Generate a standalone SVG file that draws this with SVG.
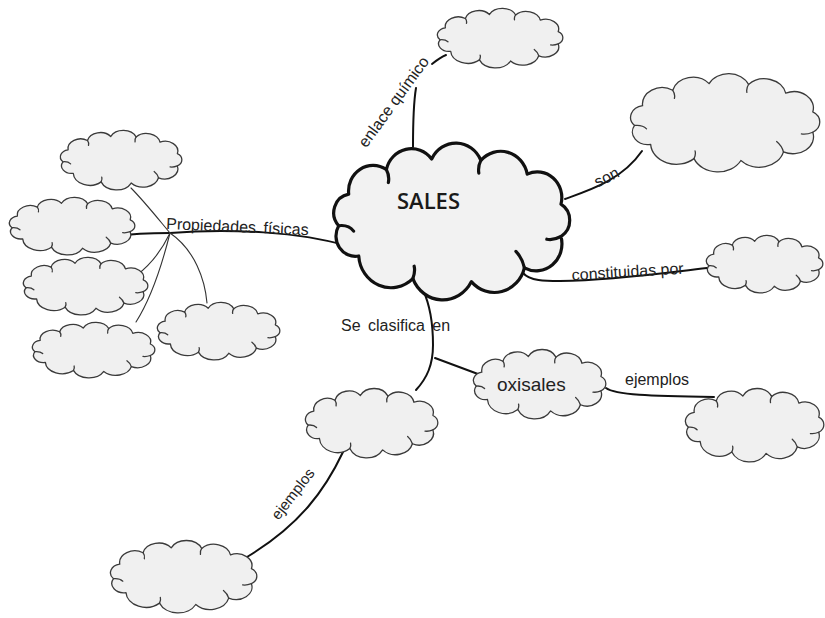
<svg xmlns="http://www.w3.org/2000/svg" xmlns:xlink="http://www.w3.org/1999/xlink" width="825" height="618" viewBox="0 0 825 618">
  <style>
    .outline { vector-effect: non-scaling-stroke; stroke-linejoin: round; }
    .curl { fill: none; vector-effect: non-scaling-stroke; stroke-linecap: round; }
    .node { fill: #f0f0f0; stroke: #3a3a3a; stroke-width: 1.3; }
    .main { fill: #f2f2f2; stroke: #111; stroke-width: 3.2; }
    .link { fill: none; stroke: #111; stroke-width: 2; stroke-linecap: round; }
    .thin { fill: none; stroke: #333; stroke-width: 1.1; stroke-linecap: round; }
    .lbl { font-family: "Liberation Sans", Arial, sans-serif; font-size: 16px; fill: #222; }
    .lbl.mid { font-size: 15px; }
    .lbl.big { font-size: 19px; }
  </style>
  <defs>
    <!-- generic cloud outline, stretched to each node box -->
    <symbol id="cloud" viewBox="4 1 92 58.5" preserveAspectRatio="none" overflow="visible">
      <path class="outline" d="M6.2,32 A7,7 0 0 1 10.1,20.3 A9.5,9.5 0 0 1 24.7,11.2 A10,10 0 0 1 42.3,7.3 A10.5,10.5 0 0 1 61.4,7.8 A10.5,10.5 0 0 1 79.4,12.9 A9.5,9.5 0 0 1 92.5,24 A7,7 0 0 1 92.5,36 A10,10 0 0 1 78.3,47.6 A12,12 0 0 1 57.7,52.7 A12.5,12.5 0 0 1 35,51.6 A12.5,12.5 0 0 1 14,43.2 A7.5,7.5 0 0 1 6.2,32 Z"/>
      <path class="curl" d="M6.2,32 Q10,31.5 12,34 M24.7,11.2 Q26,13.5 25.5,16 M61.4,7.8 Q60.2,10 60.6,12.5 M92.5,36 Q89.5,37.5 87,37 M78.3,47.6 Q77.5,44 75,41.5 M35,51.6 Q36,49 35.5,47"/>
    </symbol>
  </defs>
  <rect width="825" height="618" fill="#fff"/>

  <!-- connectors and their labels -->
  <g id="connectors">
    <path class="link" d="M170,233 C230,228 300,232 348,246"/>
    <path class="link" stroke-width="2.6" d="M170,233 C150,233 130,234 117,236"/>
    <path class="thin" d="M170,233 C155,215 143,200 131,188"/>
    <path class="thin" stroke-width="1.4" d="M170,233 C162,250 150,265 137,275"/>
    <path class="thin" stroke-width="1.4" d="M170,233 C162,265 150,300 136,322"/>
    <path class="thin" d="M170,233 C195,250 205,280 207,303"/>
    <path class="link" d="M413,147 C413,120 414,100 416,88"/>
    <path class="link" d="M432,64 C437,60 441,57 446,55"/>
    <path class="link" d="M565,199 C590,190 622,180 642,151"/>
    <path class="link" d="M523,273 C530,281 545,281 560,281 C620,280 670,272 707,268"/>
    <path class="link" d="M423,290 C430,305 433,325 433,345 C433,365 427,378 416,390"/>
    <path class="link" d="M435,358 L486,377"/>
    <path class="link" d="M606,388 C615,395 650,396 714,397"/>
    <path class="link" d="M343,452 C325,490 300,525 247,557"/>

    <text class="lbl" x="166" y="229" word-spacing="3" transform="rotate(2.5 166 229)">Propiedades físicas</text>
    <text class="lbl" x="398" y="105" text-anchor="middle" transform="rotate(-54 398 105)">enlace químico</text>
    <text class="lbl" x="609" y="182" text-anchor="middle" transform="rotate(-27 609 182)">son</text>
    <text class="lbl" x="628" y="277" text-anchor="middle" transform="rotate(-3.5 628 277)">constituidas por</text>
    <text class="lbl" x="341" y="331" word-spacing="3">Se clasifica en</text>
    <text class="lbl" x="625" y="385">ejemplos</text>
    <text class="lbl mid" x="297" y="497" text-anchor="middle" transform="rotate(-52 297 497)">ejemplos</text>
  </g>

  <!-- central concept -->
  <g id="sales">
    <use href="#cloud" class="main" x="333" y="142" width="237" height="158"/>
    <text x="397" y="209" font-family="'Open Sans', 'DejaVu Sans', sans-serif" font-size="22" font-weight="600" fill="#1a1a1a">SALES</text>
  </g>

  <g id="enlace-quimico"><use href="#cloud" class="node" x="437" y="8" width="126" height="60"/></g>
  <g id="son"><use href="#cloud" class="node" x="630" y="73" width="190" height="99"/></g>
  <g id="constituidas"><use href="#cloud" class="node" x="706" y="235" width="117" height="58"/></g>
  <g id="oxisales">
    <use href="#cloud" class="node" x="473" y="349" width="133" height="70"/>
    <text class="lbl big" x="497" y="391">oxisales</text>
  </g>
  <g id="oxisales-ejemplos"><use href="#cloud" class="node" x="685" y="388" width="139" height="74"/></g>
  <g id="clasificacion"><use href="#cloud" class="node" x="305" y="388" width="133" height="70"/></g>
  <g id="clasificacion-ejemplos"><use href="#cloud" class="node" x="110" y="540" width="147" height="73"/></g>

  <!-- physical properties -->
  <g id="propiedad-1"><use href="#cloud" class="node" x="60" y="130" width="122" height="60"/></g>
  <g id="propiedad-2"><use href="#cloud" class="node" x="9" y="197" width="126" height="58"/></g>
  <g id="propiedad-3"><use href="#cloud" class="node" x="23" y="257" width="125" height="58"/></g>
  <g id="propiedad-4"><use href="#cloud" class="node" x="32" y="322" width="123" height="56"/></g>
  <g id="propiedad-5"><use href="#cloud" class="node" x="157" y="302" width="123" height="58"/></g>
</svg>
